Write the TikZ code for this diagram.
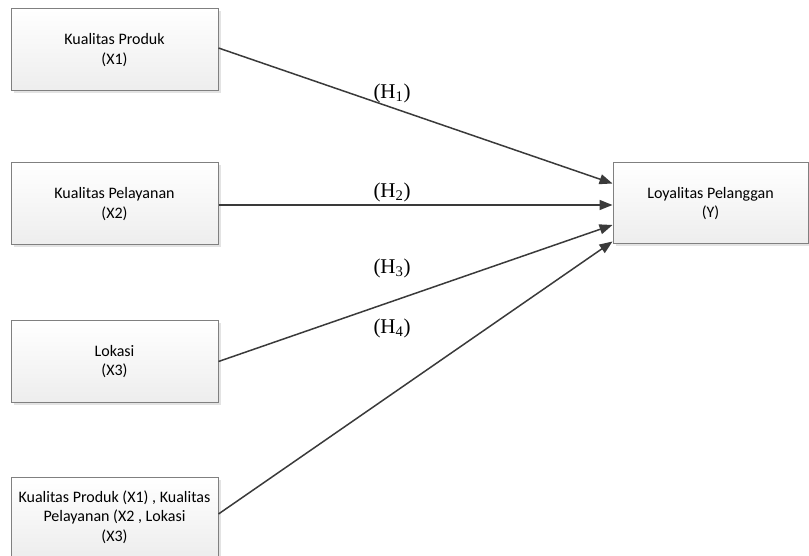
\documentclass[tikz,border=0pt]{standalone}
\usepackage{fontspec}
\setmainfont{Carlito}
\newfontfamily\timesf{Liberation Serif}
\usetikzlibrary{arrows.meta,shadows,calc}
\definecolor{boxline}{HTML}{808080}
\definecolor{arrowc}{HTML}{3A3A3A}
\tikzset{
  varbox/.style={draw=boxline, line width=1pt, top color=white, bottom color=black!7,
    drop shadow={shadow xshift=2.5pt, shadow yshift=-2.5pt, fill=black!18, opacity=0.6},
    align=center, inner sep=2pt, font=\fontsize{16}{19.5}\selectfont},
  conn/.style={draw=arrowc, line width=1.5pt, -{Triangle[length=13pt,width=10pt]}},
  hlabel/.style={font=\timesf\fontsize{21}{24}\selectfont, inner sep=0pt}
}
\begin{document}
\begin{tikzpicture}[x=1pt,y=1pt]
\useasboundingbox (0,0) rectangle (809,555);
% image y -> 555 - y
\node[varbox, minimum width=207pt, minimum height=82pt] (b1) at (114.5,505) {Kualitas Produk\\(X1)};
\node[varbox, minimum width=207pt, minimum height=82pt] (b2) at (114.5,351) {Kualitas Pelayanan\\(X2)};
\node[varbox, minimum width=207pt, minimum height=81pt] (b3) at (114.5,193.5) {Lokasi\\(X3)};
\node[varbox, minimum width=207pt, minimum height=80pt] (b4) at (114.5,38) {Kualitas Produk (X1) , Kualitas\\Pelayanan (X2 , Lokasi\\(X3)};
\node[varbox, minimum width=195pt, minimum height=81pt] (y) at (710.5,351.5) {Loyalitas Pelanggan\\(Y)};

\draw[conn] ([yshift=2pt]b1.east) -- ([yshift=20pt]y.west);
\draw[conn] ([yshift=-1pt]b2.east) -- ([yshift=-1.5pt]y.west);
\draw[conn] (b3.east) -- ([yshift=-21.5pt]y.west);
\draw[conn] ([yshift=3pt]b4.east) -- ([yshift=-38pt]y.west);

\node[hlabel] (h1) at (392,462) {(H\textsubscript{1})};
\node[hlabel] (h2) at (392,363) {(H\textsubscript{2})};
\node[hlabel] (h3) at (392,287) {(H\textsubscript{3})};
\node[hlabel] (h4) at (392,227) {(H\textsubscript{4})};
\end{tikzpicture}
\end{document}
